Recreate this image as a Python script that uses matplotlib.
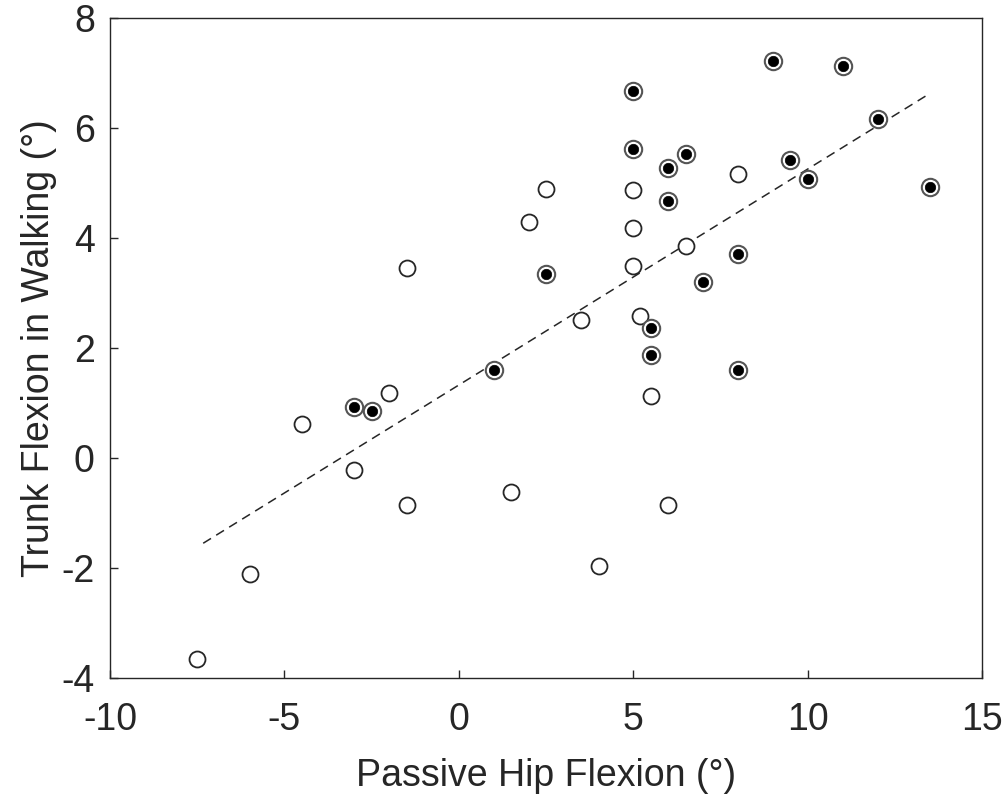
import matplotlib
matplotlib.use('Agg')
import matplotlib.pyplot as plt

# Open circles
open_x = [-7.5, -6, -4.5, -3, -2, -1.5, -1.5, 1.5, 2, 2.5, 3.5, 4, 5, 5, 5,
          5.2, 5.5, 6, 6.5, 8]
open_y = [-3.66, -2.1, 0.62, -0.22, 1.18, 3.45, -0.85, -0.62, 4.29, 4.9, 2.51,
          -1.96, 4.88, 4.18, 3.5, 2.58, 1.13, -0.85, 3.85, 5.16]

# Filled circles
fill_x = [-3, -2.5, 1, 2.5, 5, 5, 5.5, 5.5, 6, 6, 6.5, 7, 8, 8, 9, 9.5, 10,
          11, 12, 13.5]
fill_y = [0.92, 0.85, 1.6, 3.34, 6.67, 5.61, 2.36, 1.87, 5.27, 4.67, 5.52,
          3.2, 3.71, 1.6, 7.21, 5.41, 5.07, 7.12, 6.16, 4.92]

# Regression line endpoints
fit_x = [-7.33, 13.5]
fit_y = [-1.55, 6.63]

plt.rcParams['font.family'] = ['Liberation Sans', 'DejaVu Sans']
plt.rcParams['axes.unicode_minus'] = False
TXT = '#262626'

fig = plt.figure(figsize=(10.03, 8), dpi=100)
ax = fig.add_axes([0.1097, 0.1525, 0.8697, 0.825])

ax.plot(fit_x, fit_y, '--', color='#262626', linewidth=1.1, dashes=(6, 4))
ax.plot(open_x, open_y, 'o', markersize=11.5, markerfacecolor='white',
        markeredgecolor='#262626', markeredgewidth=1.3, linestyle='none')
ax.plot(fill_x, fill_y, 'o', markersize=12.5, markerfacecolor='white',
        markeredgecolor='#555555', markeredgewidth=1.5, linestyle='none')
ax.plot(fill_x, fill_y, 'o', markersize=7.5, markerfacecolor='black',
        markeredgecolor='black', markeredgewidth=0.5, linestyle='none')

ax.set_xlim(-10, 15)
ax.set_ylim(-4, 8)
ax.set_xticks([-10, -5, 0, 5, 10, 15])
ax.set_yticks([-4, -2, 0, 2, 4, 6, 8])
ax.tick_params(direction='in', length=6, width=1, colors=TXT, labelsize=27)
ax.tick_params(axis='x', pad=17)
ax.tick_params(axis='y', pad=11)
for s in ax.spines.values():
    s.set_color(TXT)
    s.set_linewidth(1)

ax.set_xlabel('Passive Hip Flexion (°)', fontsize=27, color=TXT, labelpad=15)
ax.set_ylabel('Trunk Flexion in Walking (°)', fontsize=27, color=TXT, labelpad=3)

fig.savefig('out.png', dpi=100)
